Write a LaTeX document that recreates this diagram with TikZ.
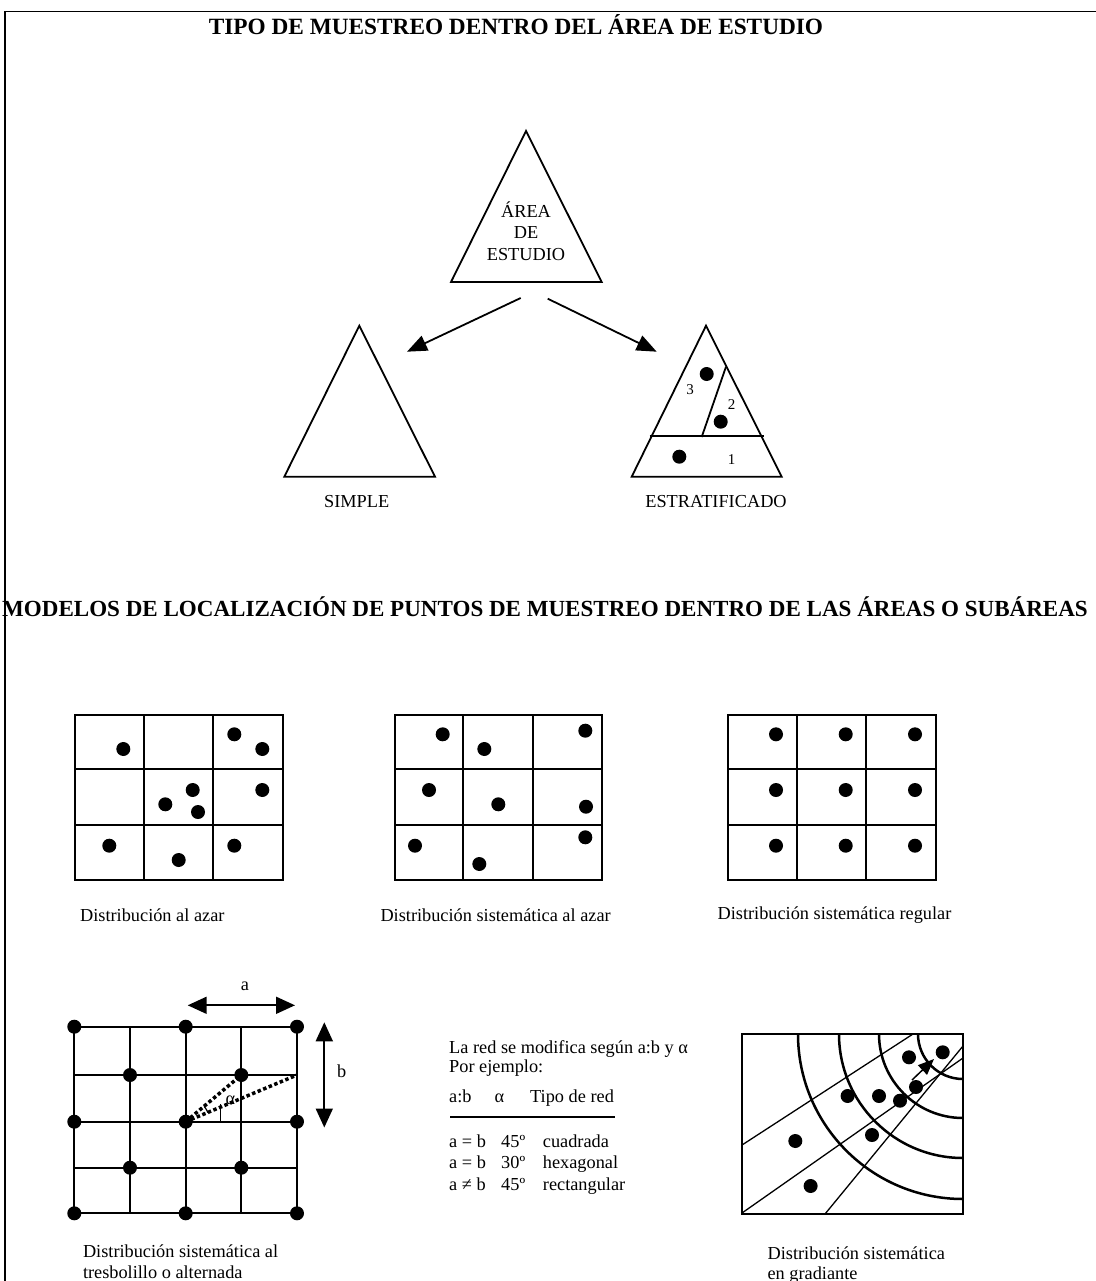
\documentclass[tikz,border=0pt]{standalone}
\usepackage{fontspec}
\setmainfont{Liberation Serif}
\usetikzlibrary{arrows.meta,positioning,calc}

\begin{document}
\begin{tikzpicture}[x=1pt, y=-1pt, ln/.style={line width=1.8pt},
    lbl/.style={font=\fontsize{18.3}{21.5}\selectfont, inner sep=0pt},
    small/.style={font=\fontsize{15}{18}\selectfont, inner sep=0pt},
    hdr/.style={font=\fontsize{23.3}{27}\selectfont\bfseries, inner sep=0pt},
    bigtip/.style={-{Triangle[length=20pt,width=16pt]}},
    twotip/.style={{Triangle[length=19pt,width=17pt]}-{Triangle[length=19pt,width=17pt]}}]
    \useasboundingbox (0,0) rectangle (1095,1281);
    \draw [line width=1.2pt] (5,1300) -- (5,11.5) -- (1110,11.5);

    \node [hdr, anchor=base] (title) at (516,35) {TIPO DE MUESTREO DENTRO DEL ÁREA DE ESTUDIO};

    \draw [ln, line join=miter] (526,131) -- (451,282) -- (601.7,282) -- cycle;
    \node [lbl, align=center] (area) at (526,231) {ÁREA\\DE\\ESTUDIO};
    \draw [ln, line join=miter] (359.3,325.7) -- (284.3,476.7) -- (435,476.7) -- cycle;
    \node [lbl] (simple) at (356.7,501.7) {SIMPLE};
    \draw [ln, line join=miter] (706,325.7) -- (631.7,476.7) -- (781.7,476.7) -- cycle;
    \draw [ln] (649.5,436) -- (764,436);
    \draw [ln] (726,366.7) -- (701.7,437);
    \foreach \x/\y in {706.7/374, 720.7/421.7, 679.3/456.7}
        \fill (\x,\y) circle[radius=7];
    \node [small] (s3) at (690,390) {3};
    \node [small] (s2) at (731.7,405) {2};
    \node [small] (s1) at (731.7,459.3) {1};
    \node [lbl] (estrat) at (716,501.7) {ESTRATIFICADO};

    \coordinate (fromL) at (520.7,298);
    \coordinate (toL) at (407,351.7);
    \coordinate (fromR) at (547.7,298.7);
    \coordinate (toR) at (656.7,351.7);
    \draw [ln, bigtip] (fromL) -- (toL);
    \draw [ln, bigtip] (fromR) -- (toR);

    \node [hdr, font=\fontsize{23.05}{27}\selectfont\bfseries, anchor=west] (title2) at (2,607) {MODELOS DE LOCALIZACIÓN DE PUNTOS DE MUESTREO DENTRO DE LAS ÁREAS O SUBÁREAS};

    \foreach \xa/\xb/\xc/\xd in {75/144/213.3/282.7, 395/463.3/533.3/602, 728.3/797/866/936} {
        \draw [ln] (\xa,715) rectangle (\xd,880);
        \draw [ln] (\xb,715) -- (\xb,880);
        \draw [ln] (\xc,715) -- (\xc,880);
        \draw [ln] (\xa,769.3) -- (\xd,769.3);
        \draw [ln] (\xa,824.7) -- (\xd,824.7);
    }
    \foreach \x/\y in {123.3/749, 234.3/734.3, 262.3/749, 192.7/790, 165.3/804.3, 198/812,
                       262.3/790, 109.3/845.7, 178.7/860, 234.3/845.7}
        \fill (\x,\y) circle[radius=7];
    \foreach \x/\y in {442.7/734.3, 484.3/749, 585.3/730.7, 429/790, 498.3/804.3, 586/806.7,
                       415/845.7, 479.3/864, 585.3/837.3}
        \fill (\x,\y) circle[radius=7];
    \foreach \x in {776, 845.7, 915}
        \foreach \y in {734.3, 790, 845.7}
            \fill (\x,\y) circle[radius=7];
    \node [lbl] (azar) at (152.3,915) {Distribución al azar};
    \node [lbl] (sisazar) at (495.6,915) {Distribución sistemática al azar};
    \node [lbl] (regular) at (834.5,915) {Distribución sistemática regular};

    \foreach \x in {74.3, 130, 185.7, 241.3, 297}
        \draw [ln] (\x,1026.7) -- (\x,1213.3);
    \foreach \y in {1026.7, 1075, 1121.7, 1167.7, 1213.3}
        \draw [ln] (74.3,\y) -- (297,\y);
    \foreach \x/\y in {74.3/1026.7, 185.7/1026.7, 297/1026.7, 130/1075, 241.3/1075,
                       74.3/1121.7, 185.7/1121.7, 297/1121.7, 130/1167.7, 241.3/1167.7,
                       74.3/1213.3, 185.7/1213.3, 297/1213.3}
        \fill (\x,\y) circle[radius=7];
    \coordinate (orig) at (185.7,1121.7);
    \coordinate (near) at (241.3,1075);
    \coordinate (far) at (297,1075);
    \draw [line width=3.5pt, dash pattern=on 3.5pt off 2.5pt] (orig) -- (near);
    \draw [line width=3.5pt, dash pattern=on 3.5pt off 2.5pt] (orig) -- (far);
    \draw [line width=1.2pt] ($(orig)+(-40:24)$) arc[start angle=-40, end angle=-22, radius=24];
    \draw [line width=1.2pt] (220.4,1104) -- (220.4,1121.7);
    \node [lbl] (alpha) at (230.5,1100.5) {α};
    \coordinate (aL) at (187.7,1005.3);
    \coordinate (aR) at (295,1005.3);
    \draw [ln, twotip] (aL) -- (aR);
    \node [lbl] (la) at (245,986.7) {a};
    \coordinate (bT) at (324.3,1022.3);
    \coordinate (bB) at (324.3,1127.5);
    \draw [ln, twotip] (bT) -- (bB);
    \node [lbl] (lb) at (341.7,1071) {b};
    \node [lbl, anchor=west] (tres1) at (82.8,1251.7) {Distribución sistemática al};
    \node [lbl, anchor=west] (tres2) at (82.8,1272.7) {tresbolillo o alternada};

    \node [lbl, anchor=base west] (red) at (449,1053) {La red se modifica según a:b y α};
    \node [lbl, anchor=base west] (ejem) at (449,1072) {Por ejemplo:};
    \node [lbl, anchor=base west] (hab) at (449,1102) {a:b};
    \node [lbl, anchor=base] (hal) at (499.5,1102) {α};
    \node [lbl, anchor=base west] (htipo) at (530,1102) {Tipo de red};
    \draw [ln] (450,1116.7) -- (615,1116.7);
    \node [lbl, anchor=base west] (r1a) at (449,1147.5) {a = b};
    \node [lbl, anchor=base west] (r1b) at (501,1147.5) {45º};
    \node [lbl, anchor=base west] (r1c) at (542.7,1147.5) {cuadrada};
    \node [lbl, anchor=base west] (r2a) at (449,1168.5) {a = b};
    \node [lbl, anchor=base west] (r2b) at (501,1168.5) {30º};
    \node [lbl, anchor=base west] (r2c) at (542.7,1168.5) {hexagonal};
    \node [lbl, anchor=base west] (r3a) at (449,1190) {a ≠ b};
    \node [lbl, anchor=base west] (r3b) at (501,1190) {45º};
    \node [lbl, anchor=base west] (r3c) at (542.7,1190) {rectangular};

    \begin{scope}
        \clip (742,1034) rectangle (963,1214);
        \foreach \r in {45, 84, 124, 165}
            \draw [line width=2.5pt] (963,1034) circle[radius=\r];
        \draw [line width=1.3pt] (742,1145) -- (913,1034);
        \draw [line width=1.3pt] (742,1213) -- (963,1058);
        \draw [line width=1.3pt] (825,1214) -- (963,1046);
    \end{scope}
    \draw [ln] (742,1034) rectangle (963,1214);
    \foreach \x/\y in {795.3/1141, 810.6/1186, 847.6/1096, 879/1096, 900/1100.7, 872/1135,
                       916/1087, 909/1057.3, 942.7/1052.3}
        \fill (\x,\y) circle[radius=7];
    \coordinate (gfrom) at (912,1080);
    \coordinate (gto) at (934,1059);
    \draw [line width=1.5pt, -{Triangle[length=16pt,width=13pt]}] (gfrom) -- (gto);
    \node [lbl, anchor=west] (grad1) at (767.4,1253) {Distribución sistemática};
    \node [lbl, anchor=west] (grad2) at (767.4,1275) {en gradiante};
\end{tikzpicture}
\end{document}
